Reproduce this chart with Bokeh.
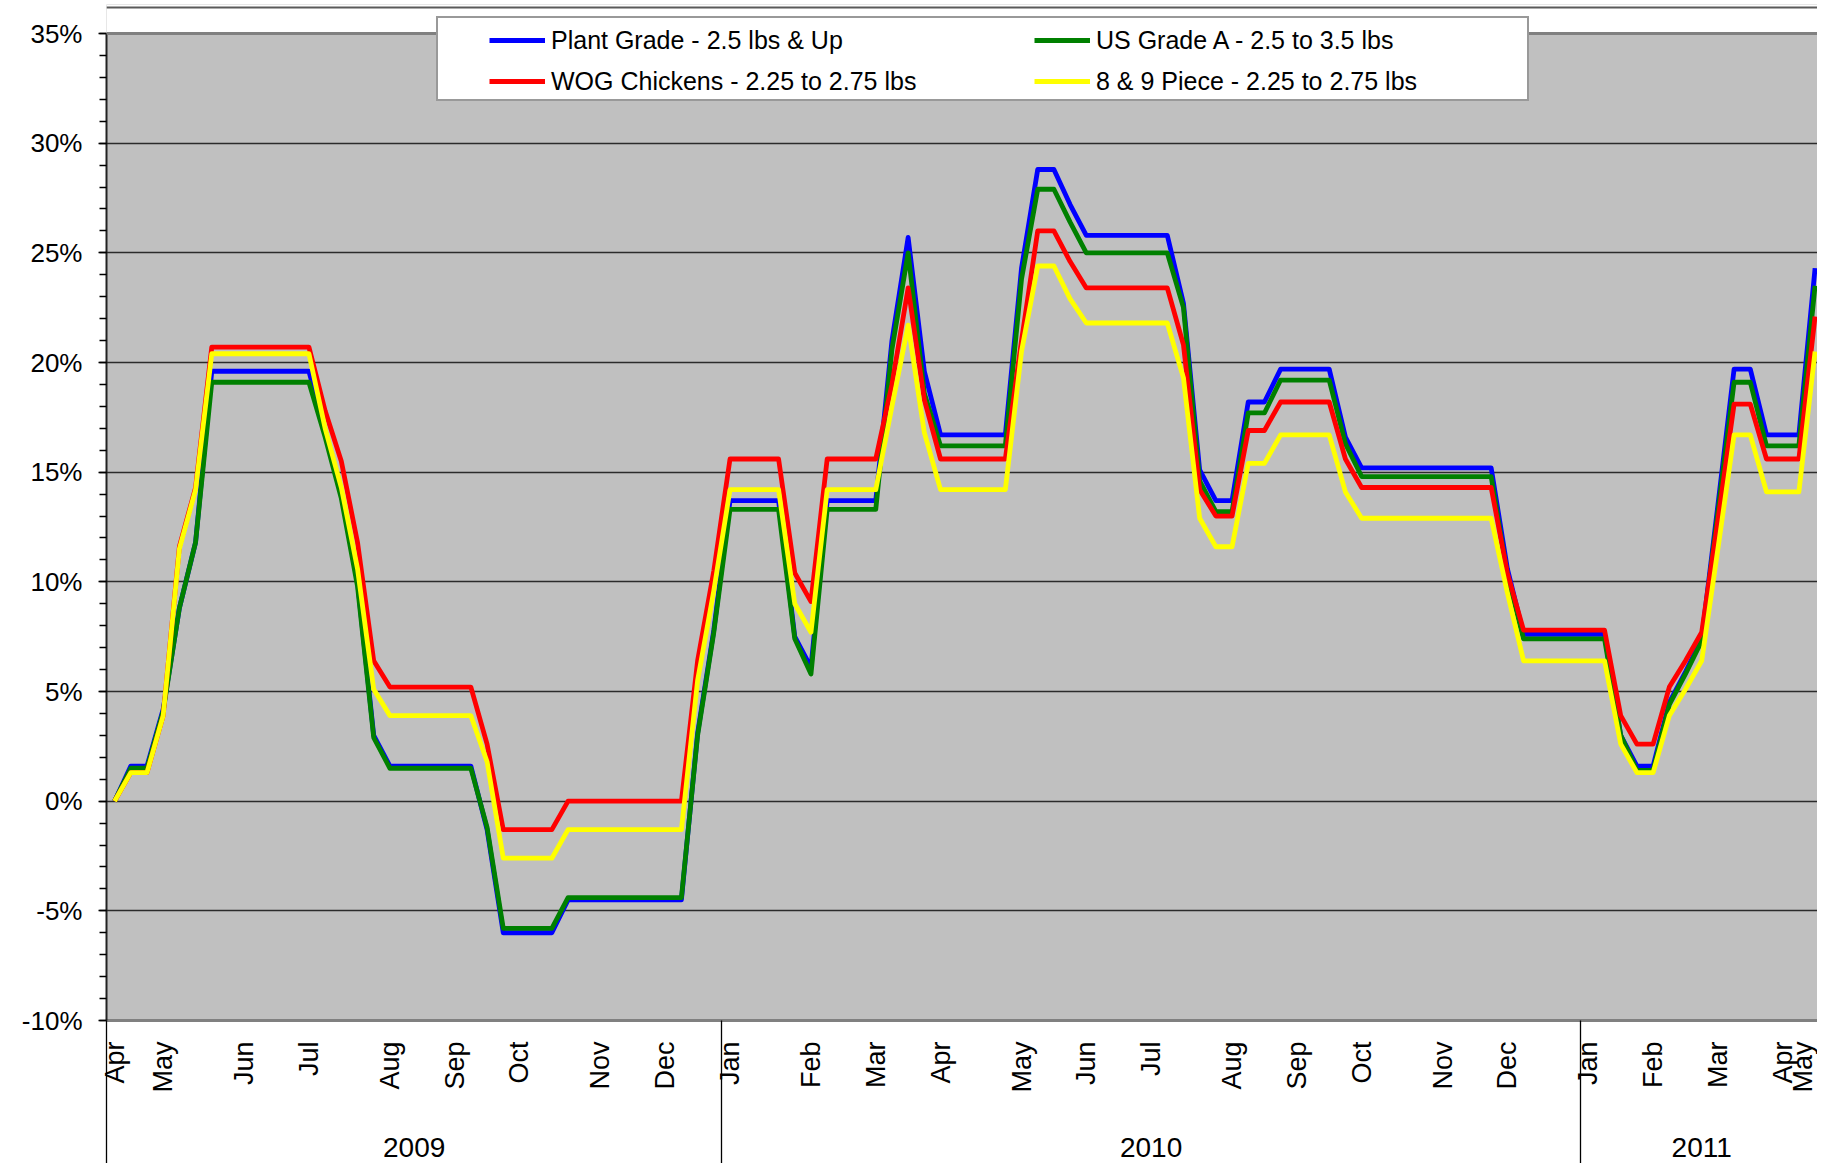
import math
from bokeh.plotting import figure
from bokeh.models import (FixedTicker, LinearAxis, Legend, LegendItem,
                          PrintfTickFormatter, Range1d, Grid, BoxAnnotation, Span)
from bokeh.embed import file_html
from bokeh.resources import INLINE

# ---------------- data (weekly, % change) ----------------
weeks = list(range(106))

plant_grade = [
    0.0, 1.6, 1.6, 4.2, 8.8, 11.8,
    19.6, 19.6, 19.6, 19.6, 19.6, 19.6, 19.6,
    16.9, 14.0, 10.0, 3.0,
    1.6, 1.6, 1.6, 1.6, 1.6, 1.6,
    -1.3,
    -6.0, -6.0, -6.0, -6.0,
    -4.5, -4.5, -4.5, -4.5, -4.5, -4.5, -4.5, -4.5,
    3.1, 7.8,
    13.7, 13.7, 13.7, 13.7,
    7.5, 6.1,
    13.7, 13.7, 13.7, 13.7,
    21.0, 25.7, 19.6,
    16.7, 16.7, 16.7, 16.7, 16.7,
    24.3,
    28.8, 28.8,
    27.2,
    25.8, 25.8, 25.8, 25.8, 25.8, 25.8,
    22.7, 15.1,
    13.7, 13.7,
    18.2, 18.2,
    19.7, 19.7, 19.7, 19.7,
    16.6,
    15.2, 15.2, 15.2, 15.2, 15.2, 15.2, 15.2, 15.2, 15.2,
    10.6,
    7.6, 7.6, 7.6, 7.6, 7.6, 7.6,
    3.0,
    1.6, 1.6,
    4.5, 5.9, 7.4, 13.5,
    19.7, 19.7,
    16.7, 16.7, 16.7,
    24.3,
]

us_grade_a = [
    0.0, 1.5, 1.5, 4.1, 8.8, 11.8,
    19.1, 19.1, 19.1, 19.1, 19.1, 19.1, 19.1,
    16.6, 13.8, 9.8, 2.9,
    1.5, 1.5, 1.5, 1.5, 1.5, 1.5,
    -1.2,
    -5.8, -5.8, -5.8, -5.8,
    -4.4, -4.4, -4.4, -4.4, -4.4, -4.4, -4.4, -4.4,
    3.0, 7.7,
    13.3, 13.3, 13.3, 13.3,
    7.4, 5.8,
    13.3, 13.3, 13.3, 13.3,
    20.6, 25.0, 18.6,
    16.2, 16.2, 16.2, 16.2, 16.2,
    23.8,
    27.9, 27.9,
    26.4,
    25.0, 25.0, 25.0, 25.0, 25.0, 25.0,
    22.5, 14.6,
    13.2, 13.2,
    17.7, 17.7,
    19.2, 19.2, 19.2, 19.2,
    16.3,
    14.8, 14.8, 14.8, 14.8, 14.8, 14.8, 14.8, 14.8, 14.8,
    10.3,
    7.4, 7.4, 7.4, 7.4, 7.4, 7.4,
    3.0,
    1.4, 1.4,
    4.4, 5.8, 7.3, 13.2,
    19.1, 19.1,
    16.2, 16.2, 16.2,
    23.5,
]

wog_chickens = [
    0.0, 1.3, 1.3, 3.9, 11.6, 14.3,
    20.7, 20.7, 20.7, 20.7, 20.7, 20.7, 20.7,
    17.8, 15.5, 11.8, 6.4,
    5.2, 5.2, 5.2, 5.2, 5.2, 5.2,
    2.6,
    -1.3, -1.3, -1.3, -1.3,
    0.0, 0.0, 0.0, 0.0, 0.0, 0.0, 0.0, 0.0,
    6.4, 10.5,
    15.6, 15.6, 15.6, 15.6,
    10.4, 9.1,
    15.6, 15.6, 15.6, 15.6,
    19.0, 23.4, 18.3,
    15.6, 15.6, 15.6, 15.6, 15.6,
    21.0,
    26.0, 26.0,
    24.6,
    23.4, 23.4, 23.4, 23.4, 23.4, 23.4,
    20.8, 14.2,
    13.0, 13.0,
    16.9, 16.9,
    18.2, 18.2, 18.2, 18.2,
    15.6,
    14.3, 14.3, 14.3, 14.3, 14.3, 14.3, 14.3, 14.3, 14.3,
    10.4,
    7.8, 7.8, 7.8, 7.8, 7.8, 7.8,
    3.9,
    2.6, 2.6,
    5.2, 6.4, 7.7, 12.8,
    18.1, 18.1,
    15.6, 15.6, 15.6,
    22.1,
]

piece_8_9 = [
    0.0, 1.3, 1.3, 3.9, 11.5, 14.2,
    20.4, 20.4, 20.4, 20.4, 20.4, 20.4, 20.4,
    17.0, 14.3, 10.6, 5.1,
    3.9, 3.9, 3.9, 3.9, 3.9, 3.9,
    1.8,
    -2.6, -2.6, -2.6, -2.6,
    -1.3, -1.3, -1.3, -1.3, -1.3, -1.3, -1.3, -1.3,
    5.5, 9.6,
    14.2, 14.2, 14.2, 14.2,
    9.0, 7.7,
    14.2, 14.2, 14.2, 14.2,
    18.0, 21.7, 16.8,
    14.2, 14.2, 14.2, 14.2, 14.2,
    20.5,
    24.4, 24.4,
    22.9,
    21.8, 21.8, 21.8, 21.8, 21.8, 21.8,
    19.3, 12.9,
    11.6, 11.6,
    15.4, 15.4,
    16.7, 16.7, 16.7, 16.7,
    14.1,
    12.9, 12.9, 12.9, 12.9, 12.9, 12.9, 12.9, 12.9, 12.9,
    9.5,
    6.4, 6.4, 6.4, 6.4, 6.4, 6.4,
    2.6,
    1.3, 1.3,
    3.9, 5.1, 6.4, 11.5,
    16.7, 16.7,
    14.1, 14.1, 14.1,
    20.5,
]

series_names = ["Plant Grade - 2.5 lbs & Up", "US Grade A - 2.5 to 3.5 lbs",
                "WOG Chickens - 2.25 to 2.75 lbs", "8 & 9 Piece - 2.25 to 2.75 lbs"]
series_values = [plant_grade, us_grade_a, wog_chickens, piece_8_9]
series_colors = ["#0000FF", "#008000", "#FF0000", "#FFFF00"]

month_ticks = [0, 3, 8, 12, 17, 21, 25, 30, 34,
               38, 43, 47, 51, 56, 60, 64, 69, 73, 77, 82, 86,
               91, 95, 99, 103, 105]
month_labels = ["Apr", "May", "Jun", "Jul", "Aug", "Sep", "Oct", "Nov", "Dec",
                "Jan", "Feb", "Mar", "Apr", "May", "Jun", "Jul", "Aug", "Sep", "Oct", "Nov", "Dec",
                "Jan", "Feb", "Mar", "Apr", "May"]
year_bounds = [-0.5, 37.5, 90.5]
year_centers = [18.5, 64, 98]
year_labels = ["2009", "2010", "2011"]
y_min, y_max = -10, 35
y_ticks = [-10, -5, 0, 5, 10, 15, 20, 25, 30, 35]
y_minor = list(range(-10, 36))

FONT = "Liberation Sans"

# 45 % spans 987 px; extra head room above 35 % holds the legend and the chart-area edge
PX_PER_PCT = 987 / 45.0
TOP_BORDER = 4
head = (33 - TOP_BORDER) / PX_PER_PCT
edge_y = y_max + (33 - 7) / PX_PER_PCT

p = figure(width=1817, height=1163, output_backend="svg", toolbar_location=None,
           x_range=Range1d(-0.5, 105.15), y_range=Range1d(y_min, y_max + head),
           x_axis_type=None, y_axis_type=None,
           min_border_left=106, min_border_right=0, min_border_top=TOP_BORDER,
           min_border_bottom=143)
p.background_fill_color = "#C0C0C0"
p.border_fill_color = "white"
p.outline_line_color = None

# y axis
yticker = FixedTicker(ticks=y_ticks, minor_ticks=y_minor)
yaxis = LinearAxis(ticker=yticker, formatter=PrintfTickFormatter(format="%d%%"),
                   bounds=(y_min, y_max),
                   major_tick_out=8, major_tick_in=0, minor_tick_out=7, minor_tick_in=0,
                   major_tick_line_color="black", major_tick_line_width=1.5,
                   minor_tick_line_color="black", minor_tick_line_width=1.5,
                   axis_line_color="#222222", axis_line_width=2,
                   major_label_text_font=FONT, major_label_text_font_size="26px",
                   major_label_text_color="black", major_label_standoff=16)
p.add_layout(yaxis, "left")
p.add_layout(Grid(dimension=1, ticker=yticker, grid_line_color="#2b2b2b", grid_line_width=1.6))

# month axis (year separators drawn as long minor ticks)
maxis = LinearAxis(ticker=FixedTicker(ticks=month_ticks, minor_ticks=year_bounds),
                   major_label_overrides=dict(zip(month_ticks, month_labels)),
                   major_label_orientation=math.pi / 2,
                   major_tick_out=0, major_tick_in=0,
                   minor_tick_out=150, minor_tick_in=0,
                   minor_tick_line_color="black", minor_tick_line_width=1.3,
                   axis_line_color="#808080", axis_line_width=3,
                   major_label_text_font=FONT, major_label_text_font_size="27px",
                   major_label_text_color="black", major_label_standoff=-129)
p.add_layout(maxis, "below")

# year axis
yraxis = LinearAxis(ticker=FixedTicker(ticks=year_centers, minor_ticks=[]),
                    major_label_overrides=dict(zip(year_centers, year_labels)),
                    major_tick_out=0, major_tick_in=0, minor_tick_out=0, minor_tick_in=0,
                    axis_line_color=None,
                    major_label_text_font=FONT, major_label_text_font_size="28px",
                    major_label_text_color="black", major_label_standoff=42)
p.add_layout(yraxis, "below")

renderers = []
for vals, col in zip(series_values, series_colors):
    r = p.line(weeks, vals, line_color=col, line_width=4.8, line_join="round")
    renderers.append(r)

# white head room above the plot area, its grey top edge and the chart-area edge
p.add_layout(BoxAnnotation(bottom=y_max, fill_color="white", fill_alpha=1.0,
                           line_color=None, level="annotation"))
p.add_layout(Span(location=y_max, dimension="width", line_color="#808080", line_width=3))
p.add_layout(Span(location=edge_y, dimension="width", line_color="#5a5a5a", line_width=2))

# legend box
box = Legend(items=[LegendItem(label=" ", renderers=[renderers[0]])],
             location=(330, 919), padding=0, margin=0, spacing=0,
             glyph_width=0, glyph_height=81, label_width=1089, label_height=81,
             label_standoff=0, border_line_color="#333333", border_line_width=2,
             background_fill_color="white", background_fill_alpha=1.0)
p.add_layout(box)

def column_legend(idx, loc):
    return Legend(items=[LegendItem(label=series_names[i], renderers=[renderers[i]]) for i in idx],
                  location=loc, padding=0, margin=0, spacing=11,
                  glyph_width=56, glyph_height=30, label_height=30, label_standoff=6,
                  label_text_font=FONT, label_text_font_size="25px", label_text_color="black",
                  border_line_color=None, background_fill_alpha=0.0)

p.add_layout(column_legend([0, 2], (383, 924)))
p.add_layout(column_legend([1, 3], (928, 924)))

open("out.html", "w").write(file_html(p, INLINE))
